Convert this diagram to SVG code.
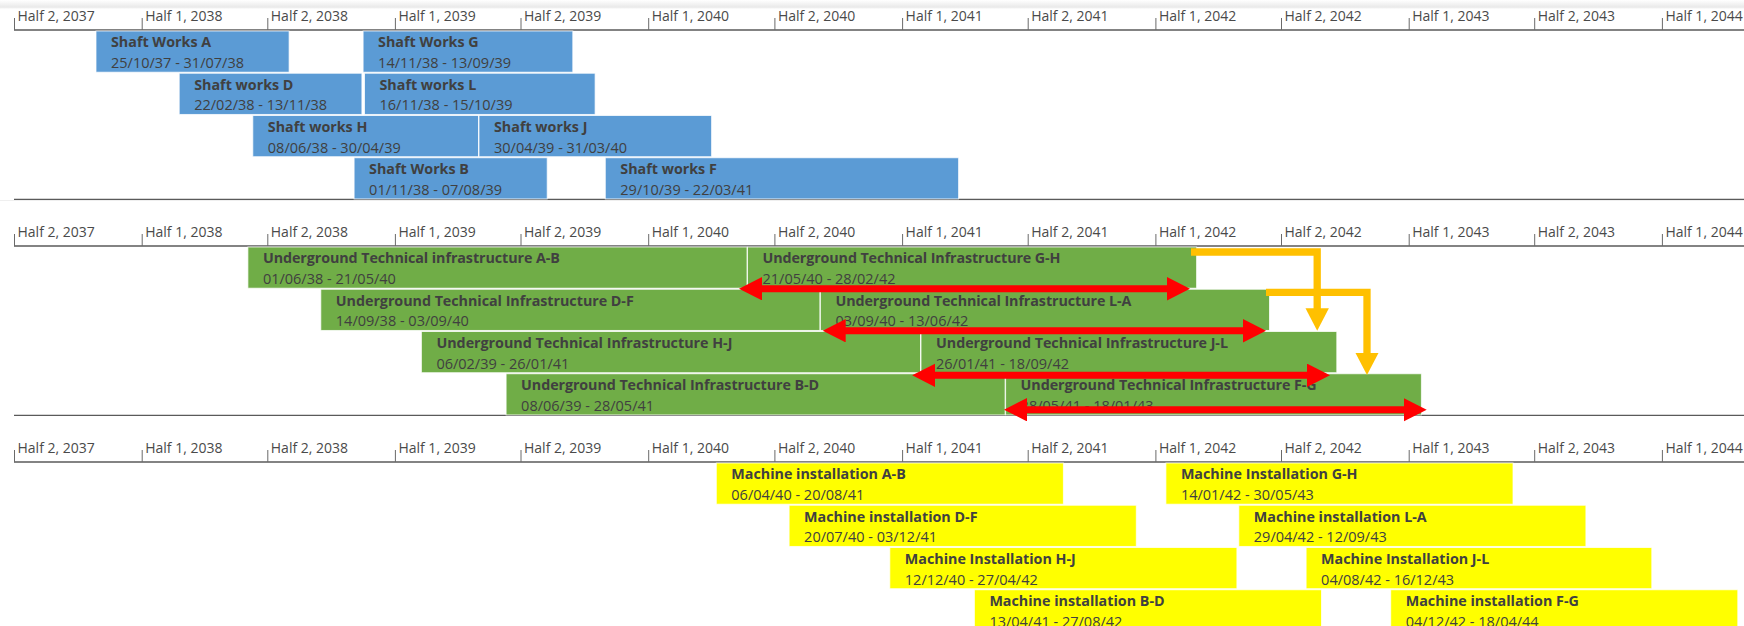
<svg xmlns="http://www.w3.org/2000/svg" width="1744" height="626" viewBox="0 0 1744 626">
<style>
.bg{fill:#ffffff}
.axis{stroke:#5a5a5a;stroke-width:1.3;fill:none}
.tick{stroke:#6a6a6a;stroke-width:1;fill:none}
.tl{font-family:"Open Sans","Noto Sans",sans-serif;font-size:14px;fill:#4a4a4a}
.bar{stroke:#ffffff;stroke-opacity:0.75;stroke-width:1}
.blue{fill:#5b9bd5}
.green{fill:#70ad47}
.yellow{fill:#ffff00}
.t1{font-family:"Open Sans","Noto Sans",sans-serif;font-size:14.3px;font-weight:bold;fill:#404040}
.t2{font-family:"Open Sans","Noto Sans",sans-serif;font-size:14.5px;fill:#404040}
.red{stroke:#ff0000;stroke-width:7;fill:none;marker-start:url(#rh);marker-end:url(#rh)}
.orange{stroke:#ffc000;stroke-width:7.3;fill:none;stroke-linejoin:miter;marker-end:url(#oh)}
</style>
<defs>
<linearGradient id="shade" x1="0" y1="0" x2="0" y2="1">
<stop offset="0" stop-color="#ffffff"/>
<stop offset="0.8" stop-color="#e9e9e9"/>
<stop offset="1" stop-color="#ffffff"/>
</linearGradient>
<marker id="rh" markerUnits="userSpaceOnUse" markerWidth="24" markerHeight="24" refX="1" refY="11.7" orient="auto-start-reverse">
<path d="M0,0 L23,11.7 L0,23.4 Z" fill="#ff0000"/>
</marker>
<marker id="oh" markerUnits="userSpaceOnUse" markerWidth="24" markerHeight="24" refX="1" refY="11.7" orient="auto">
<path d="M0,0 L22.4,11.7 L0,23.4 Z" fill="#ffc000"/>
</marker>
</defs>
<rect class="bg" x="0" y="0" width="1744" height="626"/>
<rect x="0" y="0" width="1744" height="9" fill="url(#shade)"/>

<!-- Axes -->
<g id="axis1">
<line class="axis" x1="14" y1="30" x2="1744" y2="30"/>
<line class="axis" x1="14" y1="199.3" x2="1744" y2="199.3"/>
<path class="tick" d="M14.5,18V30 M142.2,18V30 M267.8,18V30 M395.4,18V30 M521,18V30 M648.7,18V30 M774.9,18V30 M902.6,18V30 M1028.2,18V30 M1155.9,18V30 M1281.5,18V30 M1409.2,18V30 M1534.7,18V30 M1662.4,18V30"/>
<text class="tl" x="17.5" y="21">Half 2, 2037</text>
<text class="tl" x="145.2" y="21">Half 1, 2038</text>
<text class="tl" x="270.8" y="21">Half 2, 2038</text>
<text class="tl" x="398.4" y="21">Half 1, 2039</text>
<text class="tl" x="524" y="21">Half 2, 2039</text>
<text class="tl" x="651.7" y="21">Half 1, 2040</text>
<text class="tl" x="777.9" y="21">Half 2, 2040</text>
<text class="tl" x="905.6" y="21">Half 1, 2041</text>
<text class="tl" x="1031.2" y="21">Half 2, 2041</text>
<text class="tl" x="1158.9" y="21">Half 1, 2042</text>
<text class="tl" x="1284.5" y="21">Half 2, 2042</text>
<text class="tl" x="1412.2" y="21">Half 1, 2043</text>
<text class="tl" x="1537.7" y="21">Half 2, 2043</text>
<text class="tl" x="1665.4" y="21">Half 1, 2044</text>
</g>
<g id="axis2">
<line x1="0" y1="200.5" x2="1744" y2="200.5" stroke="#efefef" stroke-width="1"/>
<line class="axis" x1="14" y1="246" x2="1744" y2="246"/>
<line class="axis" x1="14" y1="415.3" x2="1744" y2="415.3"/>
<path class="tick" d="M14.5,234V246 M142.2,234V246 M267.8,234V246 M395.4,234V246 M521,234V246 M648.7,234V246 M774.9,234V246 M902.6,234V246 M1028.2,234V246 M1155.9,234V246 M1281.5,234V246 M1409.2,234V246 M1534.7,234V246 M1662.4,234V246"/>
<text class="tl" x="17.5" y="237">Half 2, 2037</text>
<text class="tl" x="145.2" y="237">Half 1, 2038</text>
<text class="tl" x="270.8" y="237">Half 2, 2038</text>
<text class="tl" x="398.4" y="237">Half 1, 2039</text>
<text class="tl" x="524" y="237">Half 2, 2039</text>
<text class="tl" x="651.7" y="237">Half 1, 2040</text>
<text class="tl" x="777.9" y="237">Half 2, 2040</text>
<text class="tl" x="905.6" y="237">Half 1, 2041</text>
<text class="tl" x="1031.2" y="237">Half 2, 2041</text>
<text class="tl" x="1158.9" y="237">Half 1, 2042</text>
<text class="tl" x="1284.5" y="237">Half 2, 2042</text>
<text class="tl" x="1412.2" y="237">Half 1, 2043</text>
<text class="tl" x="1537.7" y="237">Half 2, 2043</text>
<text class="tl" x="1665.4" y="237">Half 1, 2044</text>
</g>
<g id="axis3">
<line class="axis" x1="14" y1="462" x2="1744" y2="462"/>
<path class="tick" d="M14.5,450V462 M142.2,450V462 M267.8,450V462 M395.4,450V462 M521,450V462 M648.7,450V462 M774.9,450V462 M902.6,450V462 M1028.2,450V462 M1155.9,450V462 M1281.5,450V462 M1409.2,450V462 M1534.7,450V462 M1662.4,450V462"/>
<text class="tl" x="17.5" y="453">Half 2, 2037</text>
<text class="tl" x="145.2" y="453">Half 1, 2038</text>
<text class="tl" x="270.8" y="453">Half 2, 2038</text>
<text class="tl" x="398.4" y="453">Half 1, 2039</text>
<text class="tl" x="524" y="453">Half 2, 2039</text>
<text class="tl" x="651.7" y="453">Half 1, 2040</text>
<text class="tl" x="777.9" y="453">Half 2, 2040</text>
<text class="tl" x="905.6" y="453">Half 1, 2041</text>
<text class="tl" x="1031.2" y="453">Half 2, 2041</text>
<text class="tl" x="1158.9" y="453">Half 1, 2042</text>
<text class="tl" x="1284.5" y="453">Half 2, 2042</text>
<text class="tl" x="1412.2" y="453">Half 1, 2043</text>
<text class="tl" x="1537.7" y="453">Half 2, 2043</text>
<text class="tl" x="1665.4" y="453">Half 1, 2044</text>
</g>

<!-- Section 1: Shaft works -->
<g id="shaft-a"><rect class="bar blue" x="96" y="31" width="193.1" height="41.2"/><text class="t1" x="111" y="47.3">Shaft Works A</text><text class="t2" x="111" y="68">25/10/37 - 31/07/38</text></g>
<g id="shaft-g"><rect class="bar blue" x="363.1" y="31" width="209.7" height="41.2"/><text class="t1" x="378.1" y="47.3">Shaft Works G</text><text class="t2" x="378.1" y="68">14/11/38 - 13/09/39</text></g>
<g id="shaft-d"><rect class="bar blue" x="179.2" y="73.25" width="182.7" height="41.2"/><text class="t1" x="194.2" y="89.5">Shaft works D</text><text class="t2" x="194.2" y="110.2">22/02/38 - 13/11/38</text></g>
<g id="shaft-l"><rect class="bar blue" x="364.5" y="73.25" width="230.6" height="41.2"/><text class="t1" x="379.5" y="89.5">Shaft works L</text><text class="t2" x="379.5" y="110.2">16/11/38 - 15/10/39</text></g>
<g id="shaft-h"><rect class="bar blue" x="252.8" y="115.5" width="225.7" height="41.2"/><text class="t1" x="267.8" y="131.8">Shaft works H</text><text class="t2" x="267.8" y="152.5">08/06/38 - 30/04/39</text></g>
<g id="shaft-j"><rect class="bar blue" x="479" y="115.5" width="232.6" height="41.2"/><text class="t1" x="494" y="131.8">Shaft works J</text><text class="t2" x="494" y="152.5">30/04/39 - 31/03/40</text></g>
<g id="shaft-b"><rect class="bar blue" x="354.1" y="157.75" width="193.1" height="41.2"/><text class="t1" x="369.1" y="174">Shaft Works B</text><text class="t2" x="369.1" y="194.7">01/11/38 - 07/08/39</text></g>
<g id="shaft-f"><rect class="bar blue" x="605.3" y="157.75" width="353.3" height="41.2"/><text class="t1" x="620.3" y="174">Shaft works F</text><text class="t2" x="620.3" y="194.7">29/10/39 - 22/03/41</text></g>

<!-- Section 2: Underground technical infrastructure -->
<g id="uti-ab"><rect class="bar green" x="247.9" y="247" width="499.1" height="41.2"/><text class="t1" x="262.9" y="263.3" textLength="297" lengthAdjust="spacing">Underground Technical infrastructure A-B</text><text class="t2" x="262.9" y="284">01/06/38 - 21/05/40</text></g>
<g id="uti-gh"><rect class="bar green" x="747.5" y="247" width="449.1" height="41.2"/><text class="t1" x="762.5" y="263.3" textLength="298" lengthAdjust="spacing">Underground Technical Infrastructure G-H</text><text class="t2" x="762.5" y="284">21/05/40 - 28/02/42</text></g>
<g id="uti-df"><rect class="bar green" x="320.8" y="289.25" width="499.1" height="41.2"/><text class="t1" x="335.8" y="305.5" textLength="298" lengthAdjust="spacing">Underground Technical Infrastructure D-F</text><text class="t2" x="335.8" y="326.2">14/09/38 - 03/09/40</text></g>
<g id="uti-la"><rect class="bar green" x="820.4" y="289.25" width="449.1" height="41.2"/><text class="t1" x="835.4" y="305.5" textLength="296" lengthAdjust="spacing">Underground Technical Infrastructure L-A</text><text class="t2" x="835.4" y="326.2">03/09/40 - 13/06/42</text></g>
<g id="uti-hj"><rect class="bar green" x="421.4" y="331.5" width="499.1" height="41.2"/><text class="t1" x="436.4" y="347.8" textLength="296" lengthAdjust="spacing">Underground Technical Infrastructure H-J</text><text class="t2" x="436.4" y="368.5">06/02/39 - 26/01/41</text></g>
<g id="uti-jl"><rect class="bar green" x="921" y="331.5" width="415.8" height="41.2"/><text class="t1" x="936" y="347.8" textLength="292" lengthAdjust="spacing">Underground Technical Infrastructure J-L</text><text class="t2" x="936" y="368.5">26/01/41 - 18/09/42</text></g>
<g id="uti-bd"><rect class="bar green" x="506.1" y="373.75" width="499" height="41.2"/><text class="t1" x="521.1" y="390" textLength="298" lengthAdjust="spacing">Underground Technical Infrastructure B-D</text><text class="t2" x="521.1" y="410.7">08/06/39 - 28/05/41</text></g>
<g id="uti-fg"><rect class="bar green" x="1005.6" y="373.75" width="415.8" height="41.2"/><text class="t1" x="1020.6" y="390" textLength="296" lengthAdjust="spacing">Underground Technical Infrastructure F-G</text><text class="t2" x="1020.6" y="410.7">28/05/41 - 18/01/43</text></g>

<!-- Section 3: Machine installation -->
<g id="mi-ab"><rect class="bar yellow" x="716.3" y="463" width="347.1" height="41.2"/><text class="t1" x="731.3" y="479.3">Machine installation A-B</text><text class="t2" x="731.3" y="500">06/04/40 - 20/08/41</text></g>
<g id="mi-gh"><rect class="bar yellow" x="1165.9" y="463" width="347.1" height="41.2"/><text class="t1" x="1180.9" y="479.3">Machine Installation G-H</text><text class="t2" x="1180.9" y="500">14/01/42 - 30/05/43</text></g>
<g id="mi-df"><rect class="bar yellow" x="789.1" y="505.25" width="347.2" height="41.2"/><text class="t1" x="804.1" y="521.5">Machine installation D-F</text><text class="t2" x="804.1" y="542.2">20/07/40 - 03/12/41</text></g>
<g id="mi-la"><rect class="bar yellow" x="1238.8" y="505.25" width="347.1" height="41.2"/><text class="t1" x="1253.8" y="521.5">Machine installation L-A</text><text class="t2" x="1253.8" y="542.2">29/04/42 - 12/09/43</text></g>
<g id="mi-hj"><rect class="bar yellow" x="889.8" y="547.5" width="347.1" height="41.2"/><text class="t1" x="904.8" y="563.8">Machine Installation H-J</text><text class="t2" x="904.8" y="584.5">12/12/40 - 27/04/42</text></g>
<g id="mi-jl"><rect class="bar yellow" x="1306.1" y="547.5" width="345.7" height="41.2"/><text class="t1" x="1321.1" y="563.8">Machine Installation J-L</text><text class="t2" x="1321.1" y="584.5">04/08/42 - 16/12/43</text></g>
<g id="mi-bd"><rect class="bar yellow" x="974.4" y="589.75" width="347.1" height="41.2"/><text class="t1" x="989.4" y="606">Machine installation B-D</text><text class="t2" x="989.4" y="626.7">13/04/41 - 27/08/42</text></g>
<g id="mi-fg"><rect class="bar yellow" x="1390.7" y="589.75" width="347.1" height="41.2"/><text class="t1" x="1405.7" y="606">Machine installation F-G</text><text class="t2" x="1405.7" y="626.7">04/12/42 - 18/04/44</text></g>

<!-- Connectors -->
<g id="connectors">
<path class="orange" d="M1191,252 H1317.2 V309.3"/>
<path class="orange" d="M1266,292.3 H1367 V353.6"/>
<line class="red" x1="761" y1="288.7" x2="1168" y2="288.7"/>
<line class="red" x1="844.7" y1="330.7" x2="1244" y2="330.7"/>
<line class="red" x1="934.2" y1="375.3" x2="1308" y2="375.3"/>
<line class="red" x1="1026" y1="409.7" x2="1404.7" y2="409.7"/>
</g>
</svg>
